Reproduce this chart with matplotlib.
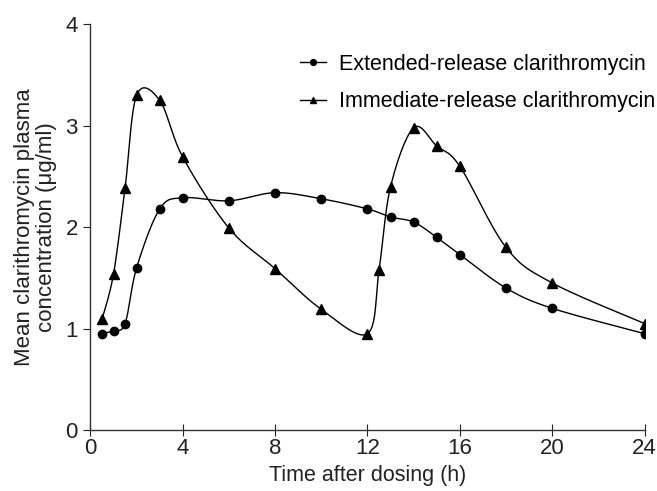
import numpy as np
import matplotlib
matplotlib.use('Agg')
import matplotlib.pyplot as plt

plt.rcParams['font.family'] = ['Liberation Sans', 'DejaVu Sans']

# data
time_er = [0.5, 1, 1.5, 2, 3, 4, 6, 8, 10, 12, 13, 14, 15, 16, 18, 20, 24]
conc_er = [0.95, 0.98, 1.05, 1.60, 2.18, 2.29, 2.26, 2.34, 2.28, 2.18, 2.10, 2.05, 1.90, 1.73, 1.40, 1.20, 0.95]
time_ir = [0.5, 1, 1.5, 2, 3, 4, 6, 8, 10, 12, 12.5, 13, 14, 15, 16, 18, 20, 24]
conc_ir = [1.09, 1.54, 2.39, 3.30, 3.25, 2.69, 1.99, 1.59, 1.19, 0.95, 1.58, 2.40, 2.98, 2.80, 2.60, 1.80, 1.45, 1.05]

XMAX, YMAX = 24, 4
AX_W, AX_H = 554, 406  # axis size in px, used to scale the smoothing


def smooth(x, y, n=30):
    # catmull-rom style bezier smoothing in screen-like space
    p = np.column_stack([np.array(x) / XMAX * AX_W, np.array(y) / YMAX * AX_H])
    pts = []
    for i in range(len(p) - 1):
        p0 = p[i - 1] if i > 0 else p[i]
        p1 = p[i]
        p2 = p[i + 1]
        p3 = p[i + 2] if i + 2 < len(p) else p[i + 1]
        b1 = p1 + (p2 - p0) / 6
        b2 = p2 - (p3 - p1) / 6
        t = np.linspace(0, 1, n)[:, None]
        seg = ((1 - t) ** 3) * p1 + 3 * ((1 - t) ** 2) * t * b1 + 3 * (1 - t) * t ** 2 * b2 + t ** 3 * p2
        pts.append(seg)
    pts = np.vstack(pts)
    return pts[:, 0] / AX_W * XMAX, pts[:, 1] / AX_H * YMAX


fig = plt.figure(figsize=(6.57, 4.91), dpi=100)
ax = fig.add_axes([0.1377, 0.1242, 0.8433, 0.8263])

for t, c, m, ms, lab in [(time_er, conc_er, 'o', 6, 'Extended-release clarithromycin'),
                         (time_ir, conc_ir, '^', 7, 'Immediate-release clarithromycin')]:
    sx, sy = smooth(t, c)
    ax.plot(sx, sy, color='black', lw=1.0)
    ax.plot(t, c, linestyle='none', marker=m, ms=ms, color='black')
    ax.plot([], [], color='black', lw=1.0, marker=m, ms=ms * 0.7, label=lab)

ax.set_xlim(0, 24)
ax.set_ylim(0, 4)
ax.set_xticks([0, 4, 8, 12, 16, 20, 24])
ax.set_yticks([0, 1, 2, 3, 4])
ax.spines['top'].set_visible(False)
ax.spines['right'].set_visible(False)
for s in ['left', 'bottom']:
    ax.spines[s].set_color('#333333')
    ax.spines[s].set_linewidth(1.0)
ax.tick_params(axis='x', direction='inout', length=8, labelsize=16, colors='#222222', pad=2)
ax.tick_params(axis='y', direction='out', length=5, labelsize=16, colors='#222222', pad=4)

ax.set_xlabel('Time after dosing (h)', fontsize=15.5, color='#222222', labelpad=4)
ax.set_ylabel('Mean clarithromycin plasma\nconcentration (\u03bcg/ml)', fontsize=16,
              color='#222222', labelpad=6, linespacing=1.1)

ax.legend(loc='upper right', bbox_to_anchor=(1.035, 0.948), frameon=False, fontsize=15.5,
          handlelength=1.2, handletextpad=0.6, labelspacing=0.75, borderaxespad=0)

fig.savefig('out.png', dpi=100)
